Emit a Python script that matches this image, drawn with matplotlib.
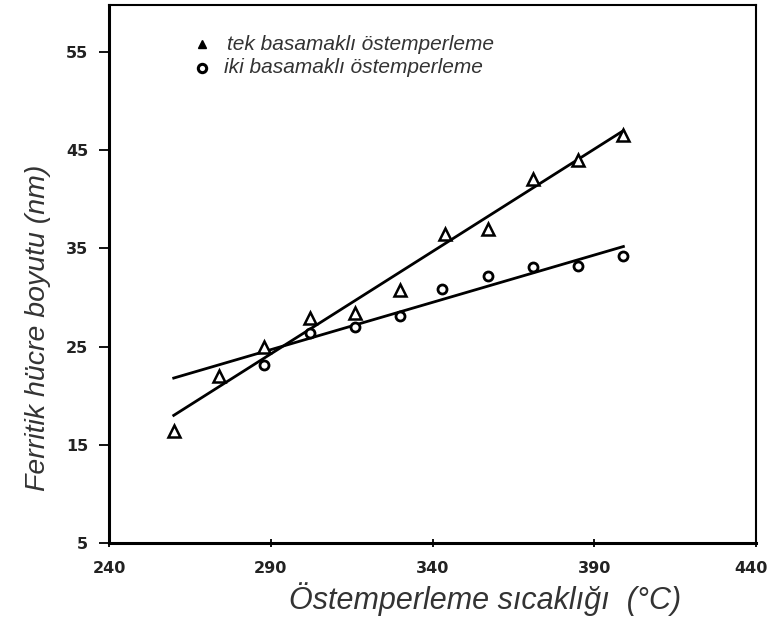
# coding=utf8
import numpy as np
import matplotlib
matplotlib.use('Agg')
import matplotlib.pyplot as plt
import matplotlib.transforms as mtransforms

# tek basamaklı östemperleme (üçgen)
tek_x = [260, 274, 288, 302, 316, 330, 344, 357, 371, 385, 399]
tek_y = [16.4, 22.0, 25.0, 27.9, 28.4, 30.8, 36.5, 37.0, 42.1, 44.0, 46.6]

# iki basamaklı östemperleme (daire)
iki_x = [288, 302, 316, 330, 343, 357, 371, 385, 399]
iki_y = [23.1, 26.4, 27.0, 28.1, 30.9, 32.2, 33.1, 33.2, 34.2]

# regresyon doğruları (uç noktalar)
fit_x = [260, 399]
tek_fit = [18.0, 47.0]
iki_fit = [21.8, 35.2]

x_ticks = [240, 290, 340, 390, 440]
y_ticks = [5, 15, 25, 35, 45, 55]

fig = plt.figure(figsize=(7.71, 6.24), dpi=100)
ax = fig.add_axes([0.1414, 0.1298, 0.8392, 0.8622])

ax.plot(fit_x, tek_fit, color='black', lw=2)
ax.plot(fit_x, iki_fit, color='black', lw=2)
ax.plot(tek_x, tek_y, linestyle='none', marker='^', ms=8, mfc='white', mec='black', mew=1.8)
ax.plot(iki_x, iki_y, linestyle='none', marker='o', ms=6.5, mfc='white', mec='black', mew=2)

ax.set_xlim(240, 440)
ax.set_ylim(5, 59.8)
ax.set_xticks(x_ticks)
ax.set_yticks(y_ticks)
ax.tick_params(axis='y', direction='out', length=7, width=1.3, labelsize=11.5, pad=8)
ax.tick_params(axis='x', direction='inout', length=6, width=1.3, labelsize=11.5, pad=10)
for lab in ax.get_xticklabels() + ax.get_yticklabels():
    lab.set_fontweight('bold')
    lab.set_color('#222222')

# son etiket kenara sığsın
last = ax.get_xticklabels()[-1]
last.set_horizontalalignment('right')
last.set_transform(last.get_transform() +
                   mtransforms.ScaledTranslation(0.12, 0, fig.dpi_scale_trans))

for side in ['left', 'bottom']:
    ax.spines[side].set_linewidth(2.2)
for side in ['top', 'right']:
    ax.spines[side].set_linewidth(1.5)

ax.set_xlabel('Östemperleme sıcaklığı  (°C)', fontsize=22, style='italic',
              family='Liberation Sans', color='#333333')
ax.set_ylabel('Ferritik hücre boyutu (nm)', fontsize=20.5, style='italic',
              family='Liberation Sans', color='#333333')
ax.xaxis.set_label_coords(0.581, -0.072)
ax.yaxis.set_label_coords(-0.09, 0.40)

# lejant
ax.plot([268.7], [55.8], marker='^', ms=6, color='black', clip_on=False)
ax.plot([268.7], [53.4], marker='o', ms=6, mfc='white', mec='black', mew=2.2, clip_on=False)
ax.text(276.5, 55.8, 'tek basamaklı östemperleme', fontsize=15, style='italic',
        family='Liberation Sans', color='#333333', va='center')
ax.text(275.5, 53.4, 'iki basamaklı östemperleme', fontsize=15, style='italic',
        family='Liberation Sans', color='#333333', va='center')

plt.savefig('out.png', dpi=100)
